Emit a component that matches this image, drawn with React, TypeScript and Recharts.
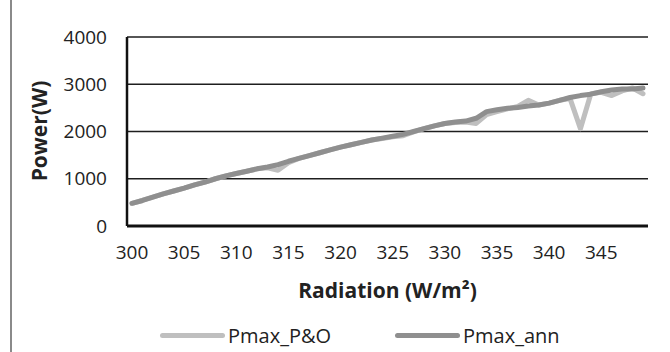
import React from "react";
import { LineChart, Line, XAxis, YAxis, CartesianGrid, Legend, Label } from "recharts";

const radiation = [
  300, 301, 302, 303, 304, 305, 306, 307, 308, 309,
  310, 311, 312, 313, 314, 315, 316, 317, 318, 319,
  320, 321, 322, 323, 324, 325, 326, 327, 328, 329,
  330, 331, 332, 333, 334, 335, 336, 337, 338, 339,
  340, 341, 342, 343, 344, 345, 346, 347, 348, 349,
];

const pmaxPO = [
  480, 540, 610, 680, 740, 800, 870, 930, 1000, 1060,
  1110, 1160, 1210, 1230, 1180, 1340, 1430, 1490, 1550, 1610,
  1670, 1720, 1770, 1820, 1850, 1890, 1910, 1990, 2060, 2120,
  2170, 2190, 2200, 2170, 2360, 2420, 2480, 2530, 2660, 2560,
  2600, 2660, 2700, 2060, 2800, 2830, 2760, 2860, 2920, 2800,
];

const pmaxAnn = [
  480, 540, 610, 680, 740, 800, 870, 930, 1000, 1060,
  1110, 1160, 1210, 1250, 1300, 1370, 1430, 1490, 1550, 1610,
  1670, 1720, 1770, 1820, 1860, 1900, 1940, 2000, 2060, 2120,
  2170, 2200, 2220, 2280, 2420, 2460, 2490, 2510, 2540, 2560,
  2600, 2660, 2720, 2760, 2790, 2840, 2880, 2900, 2900, 2920,
];

const yTicks = [0, 1000, 2000, 3000, 4000];

const data = radiation.map((r, i) => ({ x: String(r), po: pmaxPO[i], ann: pmaxAnn[i] }));

const FONT = "'Open Sans', sans-serif";
const PO_COLOR = "#bfbfbf";
const ANN_COLOR = "#8f8f8f";

function ChartLegend() {
  const item = (left: number, color: string, text: string) => (
    <div style={{ position: "absolute", left, top: 0, height: 30, display: "flex", alignItems: "center" }}>
      <div style={{ width: 65, height: 5, borderRadius: 3, background: color, marginRight: 3 }} />
      <span style={{ fontFamily: FONT, fontSize: 20, color: "#222" }}>{text}</span>
    </div>
  );
  return (
    <div style={{ position: "relative", width: 670, height: 30 }}>
      {item(160, PO_COLOR, "Pmax_P&O")}
      {item(395, ANN_COLOR, "Pmax_ann")}
    </div>
  );
}

export default function App() {
  return (
    <div style={{ position: "absolute", top: 0, left: 0, width: 670, height: 352, background: "#fff" }}>
      <div style={{ position: "absolute", left: 10, top: 0, width: 2, height: 352, background: "#8a8a8a" }} />
      <LineChart width={670} height={352} data={data} margin={{ top: 37, right: 22, bottom: 2, left: 0 }}>
        <CartesianGrid vertical={false} stroke="#1e1e1e" strokeWidth={1.5} />
        <XAxis
          dataKey="x"
          interval={4}
          height={94}
          padding={{ left: 5, right: 5 }}
          tickSize={0}
          tickMargin={20}
          axisLine={{ stroke: "#111", strokeWidth: 3 }}
          tick={{ fill: "#222", fontFamily: FONT, fontSize: 19 }}
        >
          <Label
            content={({ viewBox }: any) => (
              <text
                x={viewBox.x + viewBox.width / 2}
                y={viewBox.y + 72}
                textAnchor="middle"
                fontFamily={FONT}
                fontSize={21}
                fontWeight={700}
                fill="#222"
              >
                Radiation (W/m²)
              </text>
            )}
          />
        </XAxis>
        <YAxis
          width={127}
          domain={[0, 4000]}
          ticks={yTicks}
          tickSize={0}
          tickMargin={20}
          axisLine={{ stroke: "#111", strokeWidth: 2.5 }}
          tick={{ fill: "#222", fontFamily: FONT, fontSize: 19 }}
        >
          <Label
            content={() => (
              <text
                x={0}
                y={0}
                transform="translate(47,131) rotate(-90)"
                textAnchor="middle"
                fontFamily={FONT}
                fontSize={21}
                fontWeight={700}
                fill="#222"
              >
                Power(W)
              </text>
            )}
          />
        </YAxis>
        <Legend verticalAlign="bottom" content={() => <ChartLegend />} />
        <Line
          type="linear"
          dataKey="po"
          name="Pmax_P&O"
          stroke={PO_COLOR}
          strokeWidth={5}
          strokeLinejoin="round"
          strokeLinecap="round"
          dot={false}
          isAnimationActive={false}
        />
        <Line
          type="linear"
          dataKey="ann"
          name="Pmax_ann"
          stroke={ANN_COLOR}
          strokeWidth={5}
          strokeLinejoin="round"
          strokeLinecap="round"
          dot={false}
          isAnimationActive={false}
        />
      </LineChart>
    </div>
  );
}
